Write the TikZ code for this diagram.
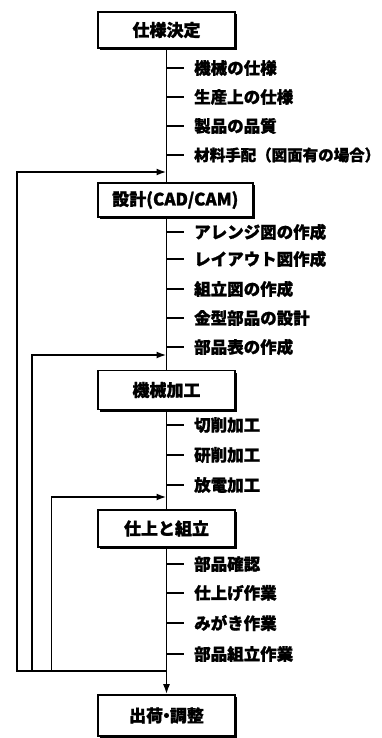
\documentclass[tikz,border=0pt]{standalone}
\usepackage{fontspec}
\setmainfont{Noto Sans CJK JP}[BoldFeatures={FakeBold=1.2}]
\usetikzlibrary{arrows.meta,shadows}
\begin{document}
\begin{tikzpicture}[x=1pt,y=-1pt,
  stage/.style={draw=black, line width=1.6pt, fill=white, minimum width=137pt,
    inner sep=0pt, font=\bfseries\fontsize{17}{18}\selectfont,
    drop shadow={shadow xshift=2.2pt, shadow yshift=-2.4pt, fill=black, opacity=1}},
  item/.style={anchor=west, inner sep=0pt, font=\bfseries\fontsize{16.5}{17}\selectfont},
  tick/.style={line width=1.6pt},
  flow/.style={line width=1.8pt},
  arr/.style={line width=1.8pt, -{Latex[length=10pt,width=7pt]}}]
\useasboundingbox (0,0) rectangle (382,738);

% stages
\node[stage, minimum height=36pt] (s1) at (166.5,30) {仕様決定};
\node[stage, minimum height=34pt, minimum width=155pt, anchor=west] (s2) at (97,200) {設計(CAD/CAM)};
\node[stage, minimum height=39pt] (s3) at (166.5,390) {機械加工};
\node[stage, minimum height=37pt] (s4) at (166.5,528.5) {仕上と組立};
\node[stage, minimum height=41pt] (s5) at (166.5,715.5) {出荷\kern-0.3em・\kern-0.3em調整};

% main spine
\draw[flow] (s1.south) -- (s1.south |- s2.north);
\draw[flow] (s1.south |- s2.south) -- (s3.north);
\draw[flow] (s3.south) -- (s4.north);
\draw[arr] (s4.south) -- (s5.north);

% items
\foreach \y/\t [count=\i] in {
  68/機械の仕様, 97/生産上の仕様, 126/製品の品質,
  232/アレンジ図の作成, 259/レイアウト図作成, 289/組立図の作成, 318/金型部品の設計, 347/部品表の作成,
  425/切削加工, 455/研削加工, 485/放電加工,
  564/部品確認, 593/仕上げ作業, 623/みがき作業, 654/部品組立作業}{
  \coordinate (t\i) at (166.5,\y);
  \coordinate (e\i) at (184,\y);
  \draw[tick] (t\i) -- (e\i);
  \node[item] (it\i) at (194,\y) {\t};
}
\coordinate (tm) at (166.5,155);
\coordinate (em) at (184,155);
\draw[tick] (tm) -- (em);
\node[item, font=\bfseries\fontsize{15.5}{17}\selectfont] (itm) at (194,155) {材料手配（図面有の場合）};

% feedback loops
\coordinate (j) at (166.5,671);
\coordinate (c1) at (166.5,172);
\coordinate (c2) at (166.5,355);
\coordinate (c3) at (166.5,497);
\coordinate (l1) at (17,671);
\coordinate (l2) at (32,671);
\coordinate (l3) at (51.5,671);
\draw[arr] (j) -- (l1) |- (c1);
\draw[arr] (l2) |- (c2);
\draw[arr] (l3) |- (c3);
\end{tikzpicture}
\end{document}
